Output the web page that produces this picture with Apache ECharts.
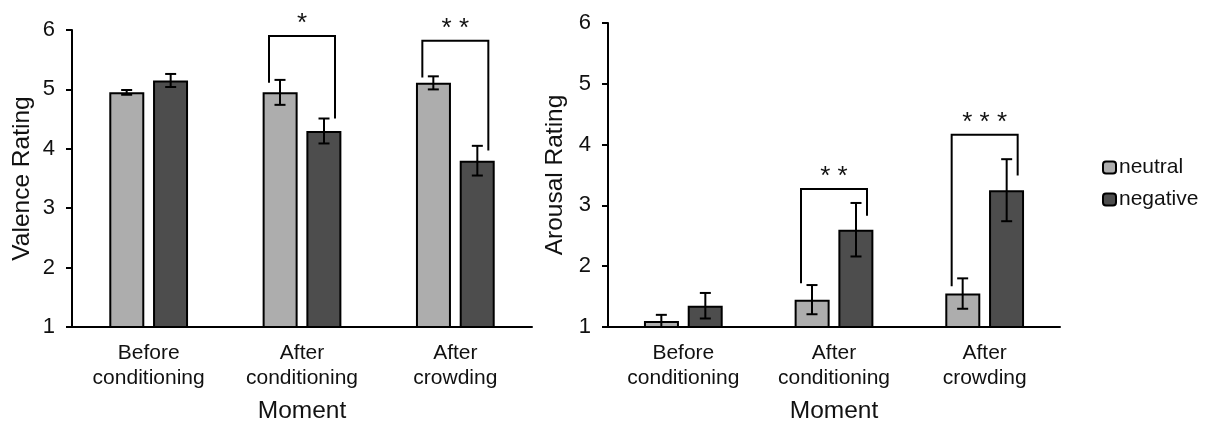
<!DOCTYPE html>
<html>
<head>
<meta charset="utf-8">
<script src="https://cdn.jsdelivr.net/npm/echarts@6/dist/echarts.min.js"></script>
<style>
  html, body { margin: 0; padding: 0; background: #fff; }
  #main { width: 1207px; height: 424px; }
</style>
</head>
<body>
<div id="main"></div>
<script>
// data
const categories = ['Before\nconditioning', 'After\nconditioning', 'After\ncrowding']
const yTicks = [1, 2, 3, 4, 5, 6]

const valenceNeutral = [4.95, 4.95, 5.11]
const valenceNegative = [5.15, 4.30, 3.80]
const valenceNeutralErr = [0.04, 0.21, 0.11]
const valenceNegativeErr = [0.11, 0.21, 0.25]

const arousalNeutral = [1.10, 1.45, 1.55]
const arousalNegative = [1.35, 2.60, 3.25]
const arousalNeutralErr = [0.10, 0.24, 0.25]
const arousalNegativeErr = [0.21, 0.44, 0.51]

// significance brackets: category, top, left leg end, right leg end, stars
const valenceBrackets = [
  [1, 5.90, 5.11, 4.51, '*'],
  [2, 5.82, 5.20, 3.97, '* *']
]
const arousalBrackets = [
  [1, 3.27, 1.72, 2.83, '* *'],
  [2, 4.16, 1.67, 3.49, '* * *']
]

const FONT = 'Arial, "Liberation Sans", sans-serif'
const BAR_W = 35
const BAR_SHIFT = 22
const LEG_SHIFT = 33

const chart = echarts.init(document.getElementById('main'))

function errorSeries(values, errs, shift, axisIdx) {
  return {
    type: 'custom',
    xAxisIndex: axisIdx,
    yAxisIndex: axisIdx,
    z: 5,
    silent: true,
    encode: { x: 0, y: 1 },
    data: values.map((v, i) => [i, v, errs[i]]),
    renderItem(params, api) {
      const top = api.coord([api.value(0), api.value(1) + api.value(2)])
      const bot = api.coord([api.value(0), api.value(1) - api.value(2)])
      const x = top[0] + shift
      const style = { stroke: '#000', lineWidth: 2 }
      return {
        type: 'group',
        children: [
          { type: 'line', shape: { x1: x, y1: top[1], x2: x, y2: bot[1] }, style },
          { type: 'line', shape: { x1: x - 5.5, y1: top[1], x2: x + 5.5, y2: top[1] }, style },
          { type: 'line', shape: { x1: x - 5.5, y1: bot[1], x2: x + 5.5, y2: bot[1] }, style }
        ]
      }
    }
  }
}

function bracketSeries(brackets, axisIdx) {
  return {
    type: 'custom',
    xAxisIndex: axisIdx,
    yAxisIndex: axisIdx,
    z: 6,
    silent: true,
    encode: { x: 0, y: 1 },
    data: brackets.map(b => b.slice(0, 4)),
    renderItem(params, api) {
      const b = brackets[params.dataIndex]
      const top = api.coord([b[0], b[1]])
      const l = api.coord([b[0], b[2]])
      const r = api.coord([b[0], b[3]])
      const cx = top[0]
      const style = { stroke: '#000', lineWidth: 2, fill: null }
      return {
        type: 'group',
        children: [
          {
            type: 'polyline',
            shape: { points: [[cx - LEG_SHIFT, l[1]], [cx - LEG_SHIFT, top[1]], [cx + LEG_SHIFT, top[1]], [cx + LEG_SHIFT, r[1]]] },
            style
          },
          {
            type: 'text',
            style: {
              text: b[4], x: cx, y: top[1] - 12,
              align: 'center', verticalAlign: 'middle',
              font: '26px ' + FONT, fill: '#111'
            }
          }
        ]
      }
    }
  }
}

function barSeries(name, values, color, axisIdx) {
  return {
    name,
    type: 'bar',
    xAxisIndex: axisIdx,
    yAxisIndex: axisIdx,
    data: values,
    barWidth: BAR_W,
    barGap: '25%',
    itemStyle: { color, borderColor: '#000', borderWidth: 2 }
  }
}

const xAxisBase = {
  type: 'category',
  data: categories,
  name: 'Moment',
  nameLocation: 'middle',
  nameGap: 72,
  nameTextStyle: { fontSize: 24.5, color: '#111', fontFamily: FONT },
  axisLine: { lineStyle: { color: '#000', width: 2 } },
  axisTick: { show: false },
  axisLabel: { fontSize: 21, color: '#111', fontFamily: FONT, lineHeight: 25, margin: 14, interval: 0 }
}

function yAxis(name, gap) {
  return {
    type: 'value',
    min: yTicks[0],
    max: yTicks[yTicks.length - 1],
    interval: 1,
    name,
    nameLocation: 'middle',
    nameRotate: 90,
    nameGap: gap,
    nameTextStyle: { fontSize: 24.5, color: '#111', fontFamily: FONT },
    axisLine: { show: true, lineStyle: { color: '#000', width: 2 } },
    axisTick: { show: true, length: 6, lineStyle: { color: '#000', width: 2 } },
    axisLabel: { fontSize: 22, color: '#111', fontFamily: FONT, margin: 17 },
    splitLine: { show: false }
  }
}

chart.setOption({
  animation: false,
  textStyle: { fontFamily: FONT },
  grid: [
    { left: 72, top: 30, width: 460, height: 297, containLabel: false, outerBoundsMode: 'none' },
    { left: 608, top: 23, width: 452, height: 304, containLabel: false, outerBoundsMode: 'none' }
  ],
  legend: {
    data: ['neutral', 'negative'],
    orient: 'vertical',
    left: 1097,
    top: 152,
    itemWidth: 13,
    itemHeight: 12,
    itemGap: 11,
    textStyle: { fontSize: 21, color: '#111', fontFamily: FONT, padding: [0, 0, 0, -2] }
  },
  xAxis: [
    Object.assign({ gridIndex: 0 }, xAxisBase),
    Object.assign({ gridIndex: 1 }, xAxisBase)
  ],
  yAxis: [
    Object.assign({ gridIndex: 0 }, yAxis('Valence Rating', 37)),
    Object.assign({ gridIndex: 1 }, yAxis('Arousal Rating', 40))
  ],
  series: [
    barSeries('neutral', valenceNeutral, '#adadad', 0),
    barSeries('negative', valenceNegative, '#4d4d4d', 0),
    barSeries('neutral', arousalNeutral, '#adadad', 1),
    barSeries('negative', arousalNegative, '#4d4d4d', 1),
    errorSeries(valenceNeutral, valenceNeutralErr, -BAR_SHIFT, 0),
    errorSeries(valenceNegative, valenceNegativeErr, BAR_SHIFT, 0),
    errorSeries(arousalNeutral, arousalNeutralErr, -BAR_SHIFT, 1),
    errorSeries(arousalNegative, arousalNegativeErr, BAR_SHIFT, 1),
    bracketSeries(valenceBrackets, 0),
    bracketSeries(arousalBrackets, 1)
  ]
})
</script>
</body>
</html>
